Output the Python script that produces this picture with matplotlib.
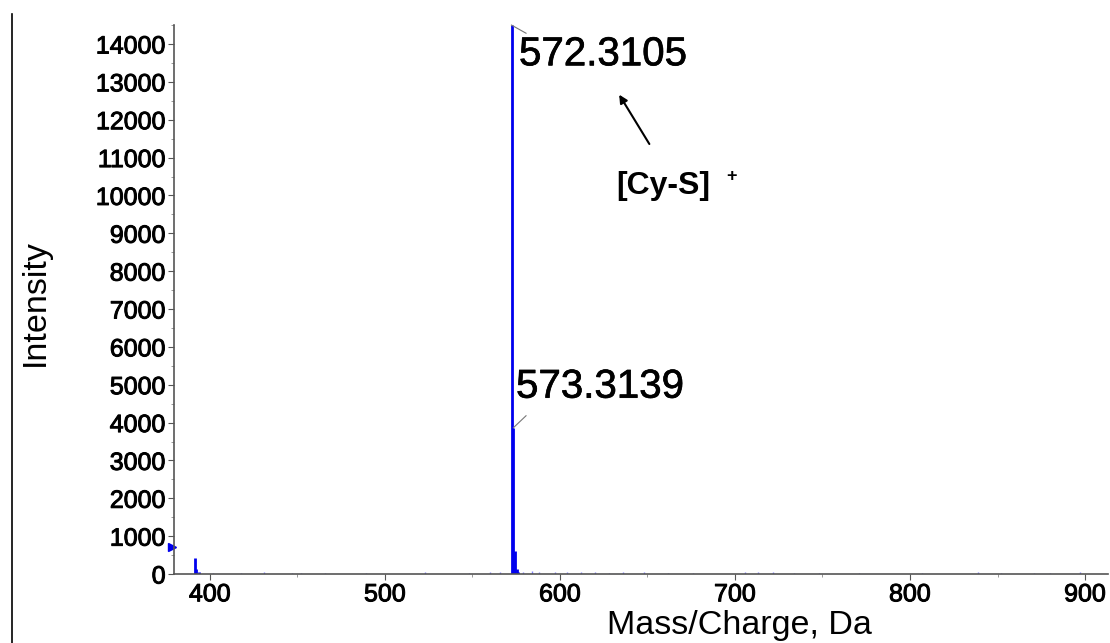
import matplotlib.pyplot as plt
import matplotlib.patheffects as pe
from matplotlib.lines import Line2D

plt.rcParams['font.family'] = ['Liberation Sans', 'DejaVu Sans']

# peak list (m/z, intensity)
peak_mz = [391.6, 392.1, 394.0, 572.31, 573.31, 574.31, 575.31, 576.3]
peak_int = [430, 120, 60, 14500, 3860, 620, 140, 50]

# low level noise sticks along the baseline
noise_mz = [402, 418, 431, 447, 452, 466, 489, 523, 548, 560, 566, 579, 584,
            588, 597, 604, 612, 620, 628, 636, 648, 662, 676, 706, 713, 722,
            734, 748, 771, 807, 839, 852, 871, 880, 897]
noise_int = [30, 25, 40, 35, 30, 25, 30, 40, 35, 50, 45, 60, 70,
             55, 50, 40, 60, 45, 35, 50, 40, 35, 30, 45, 40, 50,
             30, 25, 30, 25, 40, 30, 35, 30, 40]

label_mz = [572.3105, 573.3139]
label_int = [14500, 3860]
label_text = ["572.3105", "573.3139"]

threshold = 720

fig = plt.figure(figsize=(11.10, 6.43), dpi=100)
ax = fig.add_axes([0.1568, 0.1073, 0.8412, 0.8537])

blue = "#0000ee"
ax.vlines(noise_mz, 0, noise_int, color="#8080ff", lw=1)
ax.vlines(peak_mz, 0, peak_int, color=blue, lw=2)

ax.set_xlim(379.5, 913)
ax.set_ylim(0, 14500)
ax.set_xticks([400, 500, 600, 700, 800, 900])
ax.set_yticks(range(0, 14001, 1000))
ax.set_yticks(range(0, 14501, 500), minor=True)
ax.set_xticks(range(400, 901, 50), minor=True)

for s in ["top", "right"]:
    ax.spines[s].set_visible(False)
for s in ["left", "bottom"]:
    ax.spines[s].set_color("#555555")
    ax.spines[s].set_linewidth(1.2)

ax.tick_params(axis="both", which="major", length=4, color="#555555",
               labelsize=18, pad=2)
ax.tick_params(axis="both", which="minor", length=2, color="#888888")
thick = [pe.withStroke(linewidth=0.7, foreground="black")]
for lab in ax.get_xticklabels() + ax.get_yticklabels():
    lab.set_path_effects(thick)

ax.text(0.606, -0.093, "Mass/Charge, Da", transform=ax.transAxes,
        ha="center", va="center", fontsize=24.5)
ax.text(-0.149, 0.494, "Intensity", transform=ax.transAxes, rotation=90,
        ha="center", va="center", fontsize=24.5)

# peak labels with short leader lines
text_pos = [(576.6, 14230), (574.9, 5450)]
leader_end = [(580.6, 14285), (580.6, 4180)]
for mz, inten, txt, tp, le in zip(label_mz, label_int, label_text, text_pos, leader_end):
    ax.plot([mz, le[0]], [inten, le[1]], color="#777777", lw=0.8, clip_on=False)
    ax.text(tp[0], tp[1], txt, ha="left", va="top", fontsize=29,
            path_effects=[pe.withStroke(linewidth=0.5, foreground="black")])

ax.annotate("", xy=(633.0, 12725), xytext=(651.9, 11296),
            arrowprops=dict(arrowstyle="-|>", color="black", lw=1.5,
                            mutation_scale=12))
ax.text(631.9, 10250, "[Cy-S]", ha="left", va="center", fontsize=23,
        fontweight="bold")
ax.text(695.0, 10500, "+", ha="left", va="center", fontsize=13,
        fontweight="bold")

# threshold marker on the intensity axis
ax.plot([378.3], [threshold], marker=">", color=blue, ms=6, clip_on=False)

# frame line at the left edge
fig.add_artist(Line2D([12 / 1110, 12 / 1110], [0, 1 - 14 / 643],
                      color="black", lw=1.2))

fig.savefig("out.png", dpi=100)
